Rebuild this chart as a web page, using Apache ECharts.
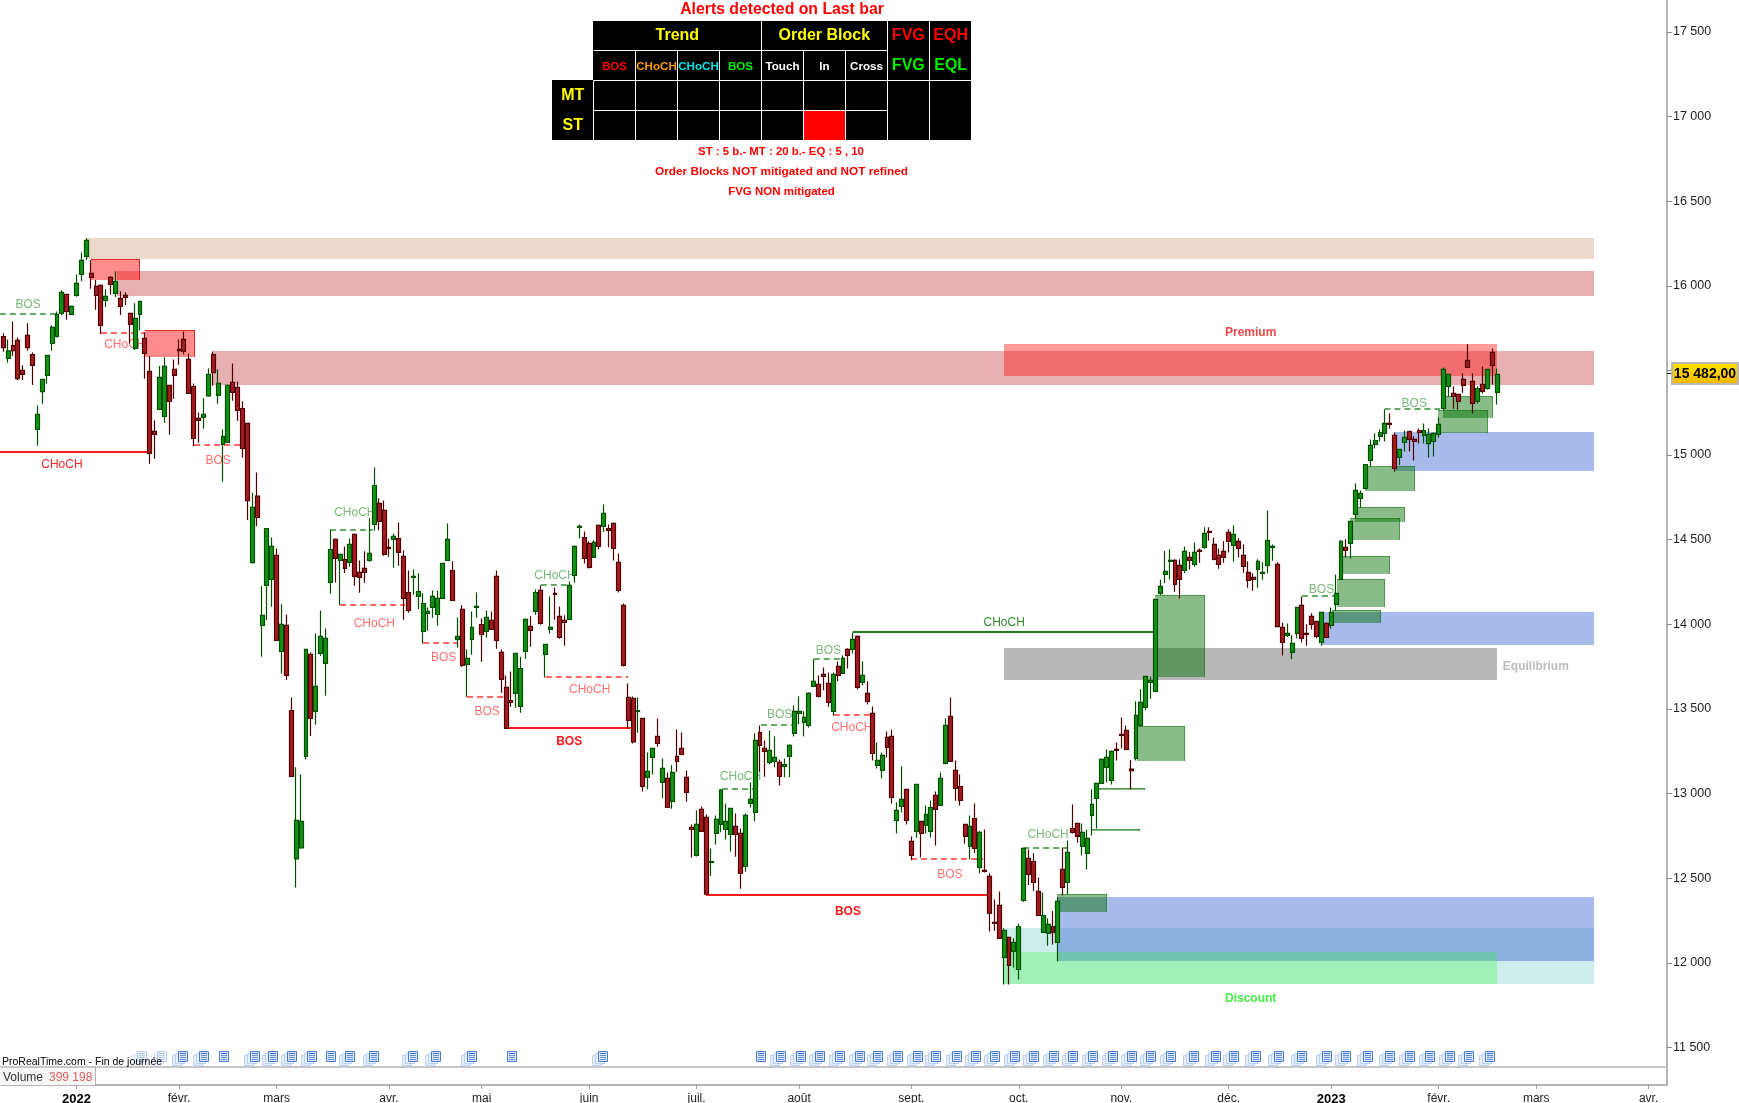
<!DOCTYPE html>
<html>
<head>
<meta charset="utf-8">
<style>html,body{margin:0;padding:0;background:#fff}#chart{width:1739px;height:1103px}</style>
<script src="https://cdn.jsdelivr.net/npm/echarts@6/dist/echarts.min.js"></script>
</head>
<body>
<div id="chart"></div>
<script>
// ---- candle values (index points) ----
const highs = [
15719,15683,15789,15695,15530,15778,15606,15293,15447,15589,
15766,15848,15973,15949,15884,16067,16197,16280,16152,16034,
16008,15980,16057,16085,15967,15961,15837,15896,15908,15724,
15585,15205,15526,15577,15411,15565,15683,15730,15598,15423,
15252,15335,15512,15612,15506,15151,15417,15541,15435,15317,
15187,14777,14897,14226,14566,14513,14448,14118,14058,13568,
13155,13113,13852,13834,13946,14082,13976,14557,14507,14413,
14460,14507,14537,14377,14431,14626,14927,14744,14732,14507,
14537,14602,14437,14318,14324,14301,14183,14100,14200,14200,
14360,14596,14372,14041,14112,13852,14076,14188,14035,14082,
14076,14318,13852,13698,13722,13832,13808,14035,14047,14206,
14230,13881,14165,14218,14106,14053,14253,14466,14590,14549,
14490,14496,14590,14708,14590,14602,14419,14123,13651,13574,
13568,13444,13243,13267,13444,13208,13125,13167,13379,13361,
13137,12818,12901,12924,12877,12676,12871,13027,12942,12913,
12883,12794,12883,13066,13356,13403,13314,13373,13338,13202,
13208,13291,13521,13574,13486,13598,13793,13698,13745,13716,
13716,13781,13816,13858,13952,13934,13781,13663,13515,13302,
13243,13367,13379,12948,13161,13025,12747,13054,12836,12930,
12960,13013,13125,13444,13568,13196,13113,12818,12871,12942,
12779,12788,12529,12375,12422,12204,12154,12145,12233,12676,
12670,12647,12505,12416,12263,12306,12387,12682,12723,12936,
12824,12824,12788,13025,13060,13208,13261,13255,13302,13450,
13403,13198,13545,13616,13692,13692,14149,14265,14433,14443,
14384,14384,14460,14427,14484,14448,14573,14573,14513,14448,
14490,14561,14584,14508,14472,14372,14301,14384,14366,14673,
14472,14366,14011,14005,13935,14100,14165,14000,14065,14017,
14070,14011,14100,14295,14496,14502,14608,14832,14791,14944,
15092,15128,15151,15269,15246,15133,15033,15145,15145,15110,
15157,15187,15157,15133,15222,15517,15476,15405,15358,15482,
15655,15482,15407,15523,15506,15630,15511];
const bodyTops = [
15699,15616,15646,15677,15500,15707,15594,15240,15447,15589,
15754,15831,15961,15949,15878,16014,16150,16268,16073,15996,
16002,15937,16049,16026,15925,15943,15837,15807,15908,15689,
15494,15140,15459,15524,15411,15506,15624,15683,15565,15405,
15216,15240,15476,15594,15423,15110,15411,15429,15400,15275,
15187,14691,14757,14053,14566,14460,14407,14000,13994,13491,
12842,12836,13852,13822,13633,13929,13917,14442,14502,14413,
14383,14472,14531,14307,14330,14419,14820,14714,14673,14454,
14519,14507,14401,14188,14283,14194,14123,14076,14165,14153,
14360,14502,14318,13929,14088,13799,13982,14106,13999,14041,
14023,14283,13834,13627,13550,13828,13739,14029,13988,14188,
14200,13881,13982,14183,14047,14023,14230,14460,14578,14513,
14478,14484,14584,14655,14566,14596,14366,14112,13568,13562,
13491,13444,13131,13267,13338,13149,13090,13125,13220,13267,
13096,12800,12818,12907,12859,12599,12848,13021,12836,12913,
12806,12765,12871,12966,13314,13361,13267,13255,13214,13184,
13172,13285,13486,13486,13450,13592,13663,13645,13704,13651,
13704,13751,13799,13852,13911,13929,13698,13592,13474,13196,
13226,13332,13338,12901,12966,13025,12718,13054,12836,12877,
12918,12989,13090,13403,13456,13137,13042,12818,12806,12853,
12771,12546,12511,12239,12340,12192,12151,12121,12215,12676,
12617,12599,12422,12280,12227,12215,12363,12552,12653,12794,
12824,12771,12735,12936,13060,13202,13214,13249,13261,13350,
13373,13145,13462,13539,13692,13669,14147,14224,14313,14378,
14378,14348,14431,14395,14425,14437,14537,14549,14472,14407,
14431,14543,14531,14490,14407,14307,14277,14372,14307,14496,
14460,14354,13982,13946,13887,14100,14112,13946,14047,14017,
14070,14005,14070,14183,14490,14454,14608,14791,14773,14944,
15057,15086,15133,15187,15187,15116,15033,15104,15139,15092,
15145,15145,15122,15128,15181,15506,15476,15364,15358,15447,
15559,15435,15393,15417,15506,15606,15476];
const bodyBottoms = [
15634,15571,15616,15451,15476,15634,15530,15151,15374,15470,
15659,15701,15837,15848,15831,15943,16067,16173,16049,15943,
15766,15913,16008,15955,15878,15931,15772,15630,15831,15600,
15010,15122,15270,15228,15317,15470,15616,15612,15364,15098,
15205,15222,15350,15486,15352,15063,15075,15370,15264,15039,
14730,14364,14631,13993,14230,14265,13905,13840,13698,13102,
12615,12680,13220,13444,13486,13828,13769,14247,14389,14377,
14330,14366,14283,14277,14307,14377,14590,14608,14413,14448,
14502,14425,14153,14082,14277,14165,13958,14064,14100,14058,
14153,14377,14141,13911,13757,13763,13911,14100,13940,13958,
13970,13905,13675,13385,13539,13592,13515,13840,13964,14076,
14005,13822,13970,14177,13923,14011,14029,14289,14572,14389,
14336,14395,14460,14578,14555,14448,14200,13757,13432,13306,
13486,13043,13096,13214,13296,13066,12918,12954,13190,13231,
13007,12788,12635,12777,12406,12594,12765,12818,12788,12759,
12759,12529,12570,12942,12889,13285,13249,13184,13190,13102,
13161,13220,13356,13474,13421,13403,13633,13574,13692,13539,
13486,13698,13710,13816,13852,13627,13657,13545,13237,13167,
13137,13273,12977,12842,12924,12842,12635,12777,12765,12812,
12777,12907,12930,13178,13190,13031,12960,12747,12688,12676,
12564,12540,12292,12233,12145,12032,11985,12068,11961,12369,
12523,12475,12280,12180,12174,12180,12121,12446,12475,12771,
12747,12688,12647,12871,12972,13060,13155,13078,13255,13344,
13261,13135,13208,13403,13509,13657,13604,14183,14295,14372,
14236,14265,14319,14378,14354,14431,14454,14543,14384,14354,
14395,14490,14466,14448,14342,14259,14265,14324,14301,14348,
14454,13986,13893,13935,13834,13946,13917,13940,14000,13929,
13893,13923,13994,14118,14265,14437,14478,14649,14744,14803,
14968,15063,15110,15128,15181,14921,14986,15074,15092,15080,
15133,15116,15068,15080,15122,15275,15405,15346,15317,15411,
15517,15305,15317,15376,15393,15529,15370];
const lows = [
15610,15545,15587,15443,15443,15616,15413,15055,15303,15421,
15616,15695,15827,15799,15827,15935,16028,16152,15982,15858,
15715,15874,15947,15933,15827,15886,15659,15620,15736,15451,
14949,14978,15266,15191,15120,15333,15533,15596,15364,15053,
15073,15155,15344,15409,15303,14842,15069,15321,15203,14984,
14616,14360,14580,13808,14025,14104,13905,13708,13671,13102,
12446,12674,13202,13340,13407,13814,13578,14181,14247,14112,
14303,14340,14228,14186,14246,14370,14553,14555,14405,14399,
14334,14346,14027,14068,14175,14090,13887,13962,14039,13992,
14153,14377,14141,13862,13749,13570,13820,14039,13779,13921,
13966,13856,13596,13385,13513,13507,13478,13797,13867,14057,
13997,13686,13946,14027,13915,13873,14025,14246,14507,14360,
14330,14393,14442,14547,14456,14377,14188,13751,13385,13296,
13360,13013,13025,13113,13277,12972,12918,12911,13129,13226,
12952,12623,12629,12777,12401,12515,12700,12771,12729,12658,
12627,12438,12538,12918,12836,13129,13100,13172,13155,13048,
13096,13096,13338,13409,13338,13391,13631,13568,13610,13513,
13462,13663,13710,13739,13828,13615,13639,13527,13196,13149,
13090,13214,12942,12765,12889,12818,12607,12741,12623,12765,
12741,12694,12928,13172,13186,12958,12930,12704,12611,12647,
12529,12534,12186,12190,12145,11873,11873,11973,11902,12361,
12460,12426,12280,12180,12101,12109,12009,12399,12405,12765,
12710,12635,12552,12753,12794,13060,13066,13054,13196,13267,
13257,13025,13196,13395,13492,13560,13604,14171,14242,14265,
14193,14153,14301,14324,14340,14364,14447,14494,14378,14328,
14364,14425,14370,14395,14305,14216,14198,14216,14263,14301,
14376,13982,13816,13925,13793,13917,13893,13874,13970,13917,
13874,13923,13976,14082,14265,14395,14389,14625,14690,14797,
14933,15039,15080,15080,15155,14903,14939,15021,15021,14968,
15068,15068,14986,14992,15104,15263,15346,15273,15269,15368,
15517,15246,15305,15364,15387,15417,15299];
const barDirections =
"RGRRRRRGGG"+"GGGRGGGGRR"+"RGRGRRRGGR"+"RRGGRRRRRR"+"RGGRGGGRRR"+
"RGRGGGRGRR"+"GGGRGGGGRG"+"RGRRRGGRRR"+"GRRRGGGGGG"+"GGRGRGGGRG"+
"RRRRRGGGRG"+"RGGRRRGGGR"+"RGRGRRRRRR"+"GRGGRGRGRR"+"RRGRRGGGGG"+
"RRGGGRRGGR"+"GGGGGGGRRR"+"GRGRGRGRRG"+"GRRGGRRGRG"+"GRGGRRRRGR"+
"GRRRRGRGGG"+"RRRGGRGRGR"+"RGGGGGGGRR"+"RRGGGGGGGG"+"RRGRGRGRRR"+
"RRGRRRRGGG"+"GRRGGGRRRR"+"GRGGGRGGGG"+"GGGGRRGGRR"+"RGGGGGGRRR"+
"RRGRGRG";
const lastPrice = 15482;

// ---- axes ----
const categoryCount = 341;
const monthTickBars = [15,36,56,79,98,120,142,163,186,208,229,251,272,294,314,337];
const monthTickLabels = ["2022","févr.","mars","avr.","mai","juin","juil.","août","sept.","oct.","nov.","déc.","2023","févr.","mars","avr."];
const priceTicks = [11500,12000,12500,13000,13500,14000,14500,15000,15500,16000,16500,17000,17500];
const priceMin = 11385, priceMax = 17688;

// ---- zones: [startBar, endBar, upperPrice, lowerPrice] ----
const supplyBand = [[16.9,325.8,16282,16158]];
const pinkBands = [[23.3,325.8,16087,15939],[43,325.8,15614,15413]];
const tealBand = [[204.8,325.8,12206,11877]];
const blueBands = [[215.8,325.8,12389,12013],[270,325.8,14073,13878],[285,325.8,15136,14905]];
const discountZone = [[204.8,306,12064,11877]];
const equilibriumZone = [[205,306,13860,13671]];
const premiumZone = [[205,306,15656,15467]];
const bearishBlocks = [[17.9,28.1,16158,16034],[29.1,39.3,15738,15581]];
const bullishBlocks = [
[215.8,226.1,12407,12300],[223,232.8,12791,12782],[224.2,233.9,13033,13021],[232.2,242,13399,13194],
[235.9,246.2,14173,13690],[272.2,282.2,14084,14008],[273.2,283,14268,14102],[274.2,284,14403,14297],
[275.9,286.1,14628,14498],[276.9,287.1,14693,14604],[278.9,289.2,14935,14787],[293.9,304.1,15266,15130],
[294.9,305.1,15349,15219]];

// ---- structure breaks: [startBar, endBar, price, labelBar, labelPrice, text] ----
const majorRedChoch = [[-0.7,29.8,15019,12,14949,"CHoCH"]];
const majorRedBos = [
[103.1,128.9,13389,115.9,13318,"BOS"],
[143.9,201.7,12403,173,12314,"BOS"]];
const majorGreenBreaks = [[174,235.5,13955,205,14019,"CHoCH"]];
const minorRedBreaks = [
[20,29,15722,24.9,15663,"CHoCH"],
[39.1,48.5,15061,44,14976,"BOS"],
[69,82.3,14114,76,14015,"CHoCH"],
[86,92.9,13889,90.2,13810,"BOS"],
[95,102.4,13570,99.1,13492,"BOS"],
[111.1,128,13689,120.1,13620,"CHoCH"],
[170.1,177.9,13464,173.8,13401,"CHoCH"],
[185.9,200.7,12614,193.9,12527,"BOS"]];
const minorGreenBreaks = [
[-0.7,11.2,15833,5.1,15896,"BOS"],
[66.9,75.7,14557,72,14671,"CHoCH"],
[110.1,115.9,14232,113,14299,"CHoCH"],
[147.2,154.1,13027,151,13106,"CHoCH"],
[155.2,162.1,13405,159,13478,"BOS"],
[166,172.1,13795,169,13856,"BOS"],
[208.9,217.9,12679,214,12765,"CHoCH"],
[266,273.1,14169,270,14216,"BOS"],
[282.9,294.3,15273,289,15315,"BOS"]];
// zone captions: [bar, price, text]
const premiumCaption = [[255.5,15725,"Premium"]];
const equilibriumCaption = [[313.9,13752,"Equilibrium"]];
const discountCaption = [[255.5,11788,"Discount"]];

// ---- news markers on the lower edge ----
const fadedNewsBars = [28.3,32.3];
const stackedNewsBars = [36.6,41,51.3,55.1,58.9,63,70.9,75.8,83.7,88.5,95.7,122.6,159,163.1,167,171.1,175.2,178.9,183,187.1,190.9,195.1,199.1,203,207,211,215,218.9,222.9,227,230.9,234.9,239,243.7,248.2,251.9,256.4,261,265.8,270.9,274.8,279.3,283.9,287.9,292,296.1,300,304.3];
const singleNewsBars = [45,66.9,104,155];
const newsLevel = 11450;

// ---- alert panel text ----
const panelTitle = "Alerts detected on Last bar";
const panelNotes = ["ST : 5 b.- MT : 20 b.- EQ : 5 , 10","Order Blocks NOT mitigated and NOT refined","FVG NON mitigated"];
const panelGroups = ["Trend","Order Block"];
const panelSignals = ["BOS","CHoCH","CHoCH","BOS","Touch","In","Cross"];
const panelRows = ["MT","ST"];

// ---- build ----
const FONT = '"Liberation Sans", Arial, sans-serif';
const categories = Array.from({length:categoryCount},(_,i)=>String(i));
const candleRows = highs.map((h,i)=> barDirections[i]==='G'
  ? [bodyBottoms[i],bodyTops[i],lows[i],h]
  : [bodyTops[i],bodyBottoms[i],lows[i],h]);

function zoneSeries(rows, style, z, rim){
  return {
    type:'custom', xAxisIndex:1, yAxisIndex:0, z, silent:true, clip:false,
    encode:{x:[0,1],y:[2,3]}, data:rows,
    renderItem(params, api){
      const a = api.coord([api.value(0),api.value(2)]);
      const b = api.coord([api.value(1),api.value(3)]);
      const x = Math.round(a[0]), y = Math.round(a[1]);
      const w = Math.round(b[0])-x, h = Math.max(1,Math.round(b[1])-y);
      const kids = [{type:'rect',shape:{x,y,width:w,height:h},style:{fill:style}}];
      if(rim){
        kids.push({type:'line',shape:{x1:x,y1:y+0.5,x2:x+w,y2:y+0.5},style:{stroke:rim,lineWidth:1}});
        kids.push({type:'line',shape:{x1:x+w-0.5,y1:y,x2:x+w-0.5,y2:y+h},style:{stroke:rim,lineWidth:1}});
      }
      return {type:'group',children:kids};
    }
  };
}
function breakSeries(rows, colour, textColour, dash, weight){
  return {
    type:'custom', xAxisIndex:1, yAxisIndex:0, z:3, silent:true, clip:false,
    encode:{x:[0,1],y:2}, data:rows.map(r=>r.slice(0,5)),
    renderItem(params, api){
      const a = api.coord([api.value(0),api.value(2)]);
      const b = api.coord([api.value(1),api.value(2)]);
      const t = api.coord([api.value(3),api.value(4)]);
      const y = Math.round(a[1]);
      return {type:'group',children:[
        {type:'line',shape:{x1:a[0],y1:y,x2:b[0],y2:y},style:{stroke:colour,lineWidth:2,lineDash:dash||null}},
        {type:'text',x:t[0],y:t[1]+1.5,style:{text:rows[params.dataIndex][5],fill:textColour,font:weight+' 12px '+FONT,align:'center',verticalAlign:'middle'}}
      ]};
    }
  };
}
function captionSeries(rows, colour){
  return {
    type:'custom', xAxisIndex:1, yAxisIndex:0, z:3, silent:true, clip:false,
    encode:{x:0,y:1}, data:rows.map(r=>r.slice(0,2)),
    renderItem(params, api){
      const p = api.coord([api.value(0),api.value(1)]);
      return {type:'text',x:p[0],y:p[1],style:{text:rows[params.dataIndex][2],fill:colour,font:'bold 12px '+FONT,align:'center',verticalAlign:'middle'}};
    }
  };
}
function sheet(x,y,w,h,fill,stroke,op){
  return {type:'rect',shape:{x:x+0.5,y:y+0.5,width:w,height:h},style:{fill,stroke,lineWidth:1,opacity:op}};
}
function newsSeries(bars, stack, op){
  return {
    type:'custom', xAxisIndex:1, yAxisIndex:0, z:8, silent:true, clip:false,
    encode:{x:0,y:1}, data:bars.map(b=>[b,newsLevel]),
    renderItem(params, api){
      const p = api.coord([api.value(0),api.value(1)]);
      const x = Math.round(p[0])-4, y = Math.round(p[1])-5;
      const kids = [];
      for(let s=stack;s>0;s--){
        kids.push(sheet(x-3*s,y+2*s,9,10,'#e6eefb','#bcd0f0',op));
      }
      kids.push(sheet(x,y,9,10,'#d9e6fa','#4a7bd0',op));
      [2,4,6,8].forEach(dy=>{
        kids.push({type:'line',shape:{x1:x+2,y1:y+dy+0.5,x2:x+8,y2:y+dy+0.5},style:{stroke:'#3f73cf',lineWidth:1,opacity:op*(dy===2?1:0.75)}});
      });
      return {type:'group',children:kids};
    }
  };
}
const lastPriceSeries = {
  type:'custom', xAxisIndex:1, yAxisIndex:0, z:20, silent:true, clip:false,
  encode:{y:0}, data:[[lastPrice]],
  renderItem(params, api){
    const y = Math.round(api.coord([0,api.value(0)])[1]);
    return {type:'group',children:[
      {type:'line',shape:{x1:1667,y1:y+0.5,x2:1672,y2:y+0.5},style:{stroke:'#000',lineWidth:1}},
      {type:'rect',shape:{x:1672,y:y-10,width:66,height:21},style:{
        fill:{type:'linear',x:0,y:0,x2:0,y2:1,colorStops:[{offset:0,color:'#ffe600'},{offset:1,color:'#f7b500'}]},
        stroke:'#b8b8b8',lineWidth:2}},
      {type:'text',x:1705,y:y+1,style:{text:'15 482,00',fill:'#000',font:'bold 14px '+FONT,align:'center',verticalAlign:'middle'}}
    ]};
  }
};

// panel graphics
function T(x,y,text,fill,font){return {type:'text',z:50,x,y,style:{text,fill,font:font+' '+FONT,align:'center',verticalAlign:'middle'}};}
function R(x,y,w,h,fill){return {type:'rect',z:49,shape:{x,y,width:w,height:h},style:{fill}};}
function L(x1,y1,x2,y2,c){return {type:'line',z:50,shape:{x1,y1,x2,y2},style:{stroke:c||'#fff',lineWidth:1}};}
const colX = [593.5,635.5,677.5,719.5,761.5,803.5,845.5,887.5,929.5,971];
const signalColours = ['#ff0000','#ff9900','#00e5e5','#00ee00','#ffffff','#ffffff','#ffffff'];
const panel = [
  T(782,10,panelTitle,'#ff0000','bold 15.8px'),
  R(593,21,378,119,'#000'), R(552,80,41,60,'#000'), R(804,111,41,29,'#ff0000'),
  L(593.5,50.5,887.5,50.5), L(593.5,80.5,971,80.5), L(593.5,110.5,887.5,110.5),
  L(593.5,80.5,593.5,140), L(635.5,50.5,635.5,140), L(677.5,50.5,677.5,140), L(719.5,50.5,719.5,140),
  L(761.5,21,761.5,140), L(803.5,50.5,803.5,140), L(845.5,50.5,845.5,140),
  L(887.5,21,887.5,140), L(929.5,21,929.5,140),
  T(677.3,36,panelGroups[0],'#ffff00','bold 16px'), T(824.3,36,panelGroups[1],'#ffff00','bold 16px'),
  T(908.3,36,'FVG','#ff0000','bold 16px'), T(950.7,36,'EQH','#ff0000','bold 16px'),
  T(908.3,66,'FVG','#00ee00','bold 16px'), T(950.7,66,'EQL','#00ee00','bold 16px'),
  T(572.7,96,panelRows[0],'#ffff00','bold 16px'), T(572.7,126,panelRows[1],'#ffff00','bold 16px'),
  ...panelSignals.map((s,i)=>T((colX[i]+colX[i+1])/2,66.5,s,signalColours[i],'bold 11.6px')),
  T(781,151.5,panelNotes[0],'#ff0000','bold 11.4px'), T(781.5,171.5,panelNotes[1],'#ff0000','bold 11.8px'), T(781.5,191.5,panelNotes[2],'#ff0000','bold 11.5px'),
  // lower panes
  {type:'line',z:40,shape:{x1:0,y1:1067,x2:1667,y2:1067},style:{stroke:'#b4b4b4',lineWidth:1.5}},
  {type:'line',z:40,shape:{x1:1667,y1:1060,x2:1667,y2:1086},style:{stroke:'#b4b4b4',lineWidth:2}},
  {type:'rect',z:39,shape:{x:0,y:1068,width:95,height:17},style:{fill:'#f7f7f7'}},
  {type:'line',z:40,shape:{x1:95.5,y1:1067,x2:95.5,y2:1085},style:{stroke:'#b4b4b4',lineWidth:1}},
  {type:'text',z:50,x:2,y:1062,style:{text:'ProRealTime.com - Fin de journée',fill:'#000',font:'10.5px '+FONT,align:'left',verticalAlign:'middle'}},
  {type:'text',z:50,x:3,y:1078,style:{text:'Volume',fill:'#333',font:'12px '+FONT,align:'left',verticalAlign:'middle'}},
  {type:'text',z:50,x:49,y:1078,style:{text:'399 198',fill:'#d9605f',font:'12px '+FONT,align:'left',verticalAlign:'middle'}}
];

const chart = echarts.init(document.getElementById('chart'),null,{renderer:'canvas',width:1739,height:1103});
chart.setOption({
  animation:false, backgroundColor:'#ffffff',
  textStyle:{fontFamily:FONT},
  grid:{left:0.86,top:0,width:1664.8,height:1067,containLabel:false,outerBoundsMode:'none'},
  xAxis:[
    {type:'category',data:categories,boundaryGap:true,position:'bottom',offset:18,
     axisLine:{show:true,onZero:false,lineStyle:{color:'#b4b4b4',width:2}},
     axisTick:{show:true,alignWithLabel:true,length:4,lineStyle:{color:'#a0a0a0'},interval:(i)=>monthTickBars.includes(i)},
     axisLabel:{show:true,margin:7.5,interval:(i)=>monthTickBars.includes(i),color:'#222',fontSize:12,hideOverlap:false,
       formatter:(v,i)=>{const k=monthTickBars.indexOf(i);if(k<0)return '';const s=monthTickLabels[k];return /^\d+$/.test(s)?'{y|'+s+'}':s;},
       rich:{y:{fontWeight:'bold',fontSize:13,color:'#000',fontFamily:FONT}}},
     splitLine:{show:false}},
    {type:'value',min:-0.5,max:categoryCount-0.5,show:false,splitLine:{show:false}}
  ],
  yAxis:[{type:'value',min:priceMin,max:priceMax,position:'right',offset:1.3,scale:true,
    axisLine:{show:true,onZero:false,lineStyle:{color:'#b4b4b4',width:2}},
    axisTick:{show:true,length:5,lineStyle:{color:'#888'},customValues:priceTicks},
    axisLabel:{show:true,margin:6,color:'#222',fontSize:12.5,padding:[2,0,0,0],customValues:priceTicks,
      formatter:(v)=>{const s=String(v);return s.slice(0,s.length-3)+' '+s.slice(-3);}},
    splitLine:{show:false}}],
  graphic:{elements:panel},
  series:[
    zoneSeries(supplyBand,'#ecd9cb',1),
    zoneSeries(pinkBands,'rgba(190,40,50,0.37)',1),
    zoneSeries(tealBand,'#cdeeea',1),
    zoneSeries(blueBands,'rgba(60,100,210,0.44)',1),
    zoneSeries(discountZone,'rgba(55,245,67,0.3)',1),
    zoneSeries(equilibriumZone,'#b8b8b8',1),
    zoneSeries(premiumZone,'rgba(255,14,14,0.416)',1),
    zoneSeries(bearishBlocks,'rgba(255,0,0,0.45)',2,'rgba(230,30,30,0.9)'),
    zoneSeries(bullishBlocks,'rgba(0,110,0,0.46)',2,'rgba(0,110,0,0.45)'),
    breakSeries(majorRedChoch,'#ff1a1a','#ff2a2a',null,'normal'),
    breakSeries(majorRedBos,'#ff1a1a','#ff1a1a',null,'bold'),
    breakSeries(majorGreenBreaks,'#1d7f1d','#2a8a2a',null,'normal'),
    breakSeries(minorRedBreaks,'#ff6666','#ff7070',[6,4],'normal'),
    breakSeries(minorGreenBreaks,'#66aa66','#7ab87a',[6,4],'normal'),
    captionSeries(premiumCaption,'#f04848'),
    captionSeries(equilibriumCaption,'#bbbbbb'),
    captionSeries(discountCaption,'#48ee48'),
    {type:'candlestick',xAxisIndex:0,yAxisIndex:0,z:5,silent:true,barWidth:4.4,clip:false,
     data:candleRows,
     itemStyle:{color:'#149116',color0:'#a41b20',borderColor:'#005000',borderColor0:'#4f0000',borderWidth:1.2}},
    newsSeries(fadedNewsBars,2,0.35),
    newsSeries(stackedNewsBars,2,1),
    newsSeries(singleNewsBars,0,1),
    lastPriceSeries
  ]
});
</script>
</body>
</html>
